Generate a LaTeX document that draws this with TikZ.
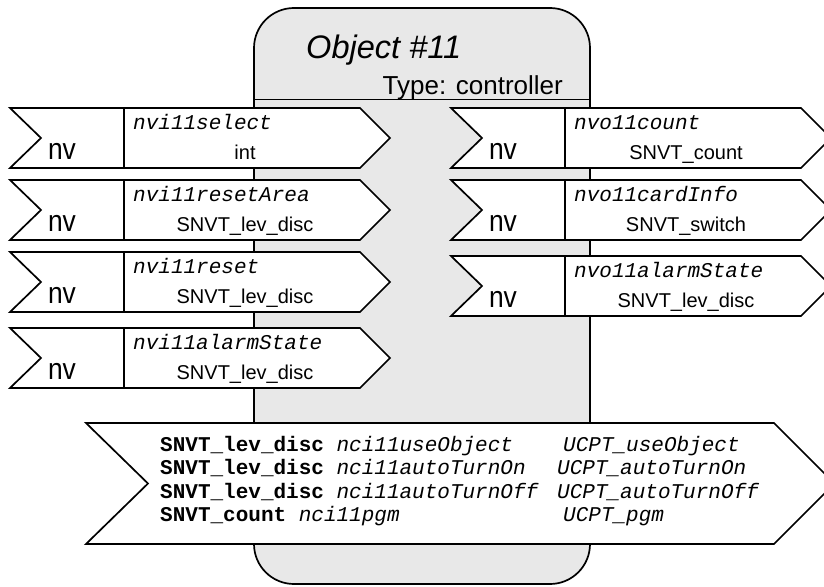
\documentclass[tikz,border=0pt]{standalone}
\usepackage{fontspec}
\setmainfont{Liberation Sans}
\setmonofont{Liberation Mono}
\definecolor{objfill}{HTML}{E8E8E8}
\tikzset{
  rowline/.style={draw=black, line width=1.7pt, line join=miter},
  rowshape/.style={rowline, fill=white},
  objbox/.style={draw=black, line width=1.7pt, fill=objfill, rounded corners=40pt},
  nvtext/.style={anchor=base, inner sep=0pt, font=\fontsize{30}{34}\selectfont},
  nametext/.style={anchor=base west, inner sep=0pt, font=\fontsize{21}{24}\selectfont\ttfamily\itshape},
  typetext/.style={anchor=base, inner sep=0pt, font=\fontsize{20}{24}\selectfont},
  cfgtext/.style={anchor=base west, inner sep=0pt, font=\fontsize{21}{24}\selectfont\ttfamily},
}
% one network-variable row: #1 left x, #2 top y, #3 variable name, #4 type, #5 node id
\newcommand\nvbox[5]{%
  \path[rowshape] (#1,#2) -- ++(350,0) -- ++(30,30) -- ++(-30,30) -- ++(-350,0)
    -- ++(31,-30) -- cycle;
  \draw[rowline] (#1+114,#2) -- ++(0,60);
  \node[nvtext] (#5-nv) at (#1+52,#2+51) {\scalebox{0.88}[1]{nv}};
  \node[nametext] (#5-name) at (#1+123,#2+21) {#3};
  \node[typetext] (#5-type) at (#1+235,#2+51) {#4};
}
\begin{document}
\begin{tikzpicture}[x=1pt,y=-1pt]
\useasboundingbox (0,0) rectangle (824,586);
\fill[white] (0,0) rectangle (824,586);

% functional block body
\path[objbox] (254,8) rectangle (590,584);
\draw[line width=1.7pt] (254,99.5) -- (590,99.5);
\node[anchor=base west, inner sep=0pt] (title) at (306,58.5)
  {\resizebox{155pt}{!}{\fontsize{27}{30}\selectfont\itshape Object \#11}};
\node[anchor=base east, inner sep=0pt, font=\fontsize{26}{30}\selectfont] (objtype) at (563,94)
  {Type: controller};

% inputs
\nvbox{10}{108}{nvi11select}{int}{in1}
\nvbox{10}{180}{nvi11resetArea}{SNVT\_lev\_disc}{in2}
\nvbox{10}{252}{nvi11reset}{SNVT\_lev\_disc}{in3}
\nvbox{10}{328}{nvi11alarmState}{SNVT\_lev\_disc}{in4}

% outputs
\nvbox{451}{108}{nvo11count}{SNVT\_count}{out1}
\nvbox{451}{180}{nvo11cardInfo}{SNVT\_switch}{out2}
\nvbox{451}{256}{nvo11alarmState}{SNVT\_lev\_disc}{out3}

% configuration properties
\path[rowshape] (86,423) -- (774,423) -- (834.5,483.5) -- (774,544) -- (86,544)
  -- (148,483.5) -- cycle;
\node[cfgtext] (c1) at (160,451)   {\textbf{SNVT\_lev\_disc} \textit{nci11useObject}};
\node[cfgtext] (c2) at (160,474.5) {\textbf{SNVT\_lev\_disc} \textit{nci11autoTurnOn}};
\node[cfgtext] (c3) at (160,498)   {\textbf{SNVT\_lev\_disc} \textit{nci11autoTurnOff}};
\node[cfgtext] (c4) at (160,521.5) {\textbf{SNVT\_count} \textit{nci11pgm}};
\node[cfgtext] (u1) at (563,451)   {\textit{UCPT\_useObject}};
\node[cfgtext] (u2) at (557,474.5) {\textit{UCPT\_autoTurnOn}};
\node[cfgtext] (u3) at (557,498)   {\textit{UCPT\_autoTurnOff}};
\node[cfgtext] (u4) at (563,521.5) {\textit{UCPT\_pgm}};
\end{tikzpicture}
\end{document}
